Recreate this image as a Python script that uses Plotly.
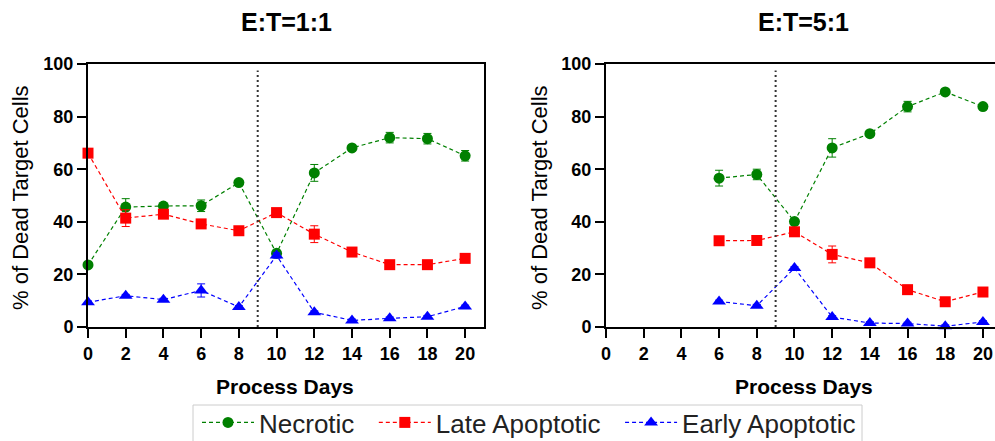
import plotly.graph_objects as go

# ---------------- data ----------------
days_1to1 = [0, 2, 4, 6, 8, 10, 12, 14, 16, 18, 20]
necrotic_1to1 = [23.6, 45.6, 46.0, 46.1, 54.9, 28.0, 58.6, 68.1, 72.0, 71.6, 65.1]
necrotic_1to1_err = [0.5, 3.2, 1.0, 2.2, 1.0, 1.0, 3.2, 1.0, 2.0, 2.0, 2.0]
late_1to1 = [66.1, 41.4, 42.9, 39.2, 36.6, 43.5, 35.3, 28.5, 23.7, 23.7, 26.1]
late_1to1_err = [1.0, 3.2, 1.5, 1.5, 1.0, 1.0, 3.2, 1.0, 1.0, 1.0, 1.0]
early_1to1 = [9.4, 11.9, 10.4, 13.9, 7.6, 27.2, 5.6, 2.5, 3.3, 3.9, 7.8]
early_1to1_err = [0.5, 0.5, 0.5, 2.5, 0.5, 1.0, 0.5, 0.5, 0.5, 0.5, 0.5]

days_5to1 = [6, 8, 10, 12, 14, 16, 18, 20]
necrotic_5to1 = [56.6, 58.0, 40.1, 68.1, 73.5, 83.8, 89.4, 83.8]
necrotic_5to1_err = [3.0, 2.0, 1.0, 3.5, 1.0, 2.0, 1.0, 1.0]
late_5to1 = [32.8, 32.9, 36.2, 27.6, 24.4, 14.2, 9.6, 13.3]
late_5to1_err = [1.0, 1.0, 1.0, 3.2, 1.0, 1.0, 1.0, 1.0]
early_5to1 = [9.7, 8.1, 22.4, 3.8, 1.5, 1.3, 0.3, 1.9]
early_5to1_err = [0.5, 0.5, 0.5, 0.5, 0.5, 0.5, 0.5, 0.5]

series_names = ["Necrotic", "Late Apoptotic", "Early Apoptotic"]
panel_titles = ["E:T=1:1", "E:T=5:1"]
x_ticks = [0, 2, 4, 6, 8, 10, 12, 14, 16, 18, 20]
y_ticks = [0, 20, 40, 60, 80, 100]
divider_day = 9
x_title = "Process Days"
y_title = "% of Dead Target Cells"

# ---------------- styling ----------------
W, H = 995, 441
FONT = "Liberation Sans, Arial, sans-serif"
colors = ["#008000", "#ff0000", "#0000ff"]
symbols = ["circle", "square", "triangle-up"]
sizes = [11, 11, 12]
NB = "\u00a0"
legend_pad = [NB * 2, NB * 2, ""]

def px_x(p):
    return p / W

def px_y(p):
    return (H - p) / H

fig = go.Figure()

panels = [
    (days_1to1, [necrotic_1to1, late_1to1, early_1to1],
     [necrotic_1to1_err, late_1to1_err, early_1to1_err], "x", "y", True),
    (days_5to1, [necrotic_5to1, late_5to1, early_5to1],
     [necrotic_5to1_err, late_5to1_err, early_5to1_err], "x2", "y2", False),
]

for days, vals, errs, xa, ya, show in panels:
    for i in range(3):
        fig.add_trace(go.Scatter(
            x=days, y=vals[i], name=series_names[i] + legend_pad[i],
            mode="lines+markers",
            line=dict(color=colors[i], width=1.2, dash="4px,3px"),
            marker=dict(color=colors[i], symbol=symbols[i], size=sizes[i],
                        line=dict(width=0)),
            error_y=dict(type="data", array=errs[i], visible=True,
                         color=colors[i], thickness=1, width=4),
            xaxis=xa, yaxis=ya, showlegend=show, cliponaxis=False,
        ))

axis_common = dict(
    showline=True, linecolor="black", linewidth=2,
    ticks="outside", ticklen=9, tickwidth=2, tickcolor="black",
    showgrid=False, zeroline=False,
    tickfont=dict(family=FONT, size=18, color="black", weight="bold"),
)

ydom = [px_y(327), px_y(64)]
fig.update_layout(
    width=W, height=H,
    margin=dict(l=0, r=0, t=0, b=0, autoexpand=False),
    paper_bgcolor="white", plot_bgcolor="white",
    xaxis=dict(domain=[px_x(88), px_x(484)], range=[0, 21.0],
               tickvals=x_ticks, mirror=True, anchor="y", **axis_common),
    yaxis=dict(domain=ydom, range=[0, 100], tickvals=y_ticks,
               mirror=True, anchor="x", **axis_common),
    xaxis2=dict(domain=[px_x(606), 1.0], range=[0, 20.64],
                tickvals=x_ticks, mirror=True, anchor="y2", **axis_common),
    yaxis2=dict(domain=ydom, range=[0, 100], tickvals=y_ticks,
                mirror=False, anchor="x2", **axis_common),
    legend=dict(
        orientation="h", x=px_x(197), y=px_y(399),
        xanchor="left", yanchor="top",
        font=dict(family=FONT, size=26, color="#222222"),
        borderwidth=0, bgcolor="rgba(0,0,0,0)",
        itemwidth=52,
    ),
    showlegend=True,
)

# legend frame
fig.add_shape(type="rect", xref="paper", yref="paper",
              x0=px_x(193), x1=px_x(862), y0=px_y(452), y1=px_y(405),
              line=dict(color="#cccccc", width=1), fillcolor="white",
              layer="below")

# divider dotted lines
for xa, ya in [("x", "y"), ("x2", "y2")]:
    fig.add_shape(type="line", xref=xa, yref=ya,
                  x0=divider_day, x1=divider_day, y0=0, y1=97.5,
                  line=dict(color="#333333", width=2, dash="2px,3px"))

# titles and axis titles as annotations
for cx, title in zip([286, 803], panel_titles):
    fig.add_annotation(x=px_x(cx), y=px_y(22), xref="paper", yref="paper",
                       xanchor="center", yanchor="middle",
                       text=title, showarrow=False,
                       font=dict(family=FONT, size=25, color="black", weight="bold"))
for cx in [285, 804]:
    fig.add_annotation(x=px_x(cx), y=px_y(386), xref="paper", yref="paper",
                       xanchor="center", yanchor="middle",
                       text=x_title, showarrow=False,
                       font=dict(family=FONT, size=21, color="black", weight="bold"))
for cx in [20, 539]:
    fig.add_annotation(x=px_x(cx), y=px_y(198), xref="paper", yref="paper",
                       xanchor="center", yanchor="middle",
                       text=y_title, showarrow=False, textangle=-90,
                       font=dict(family=FONT, size=22, color="black"))

fig.write_html("out.html")
